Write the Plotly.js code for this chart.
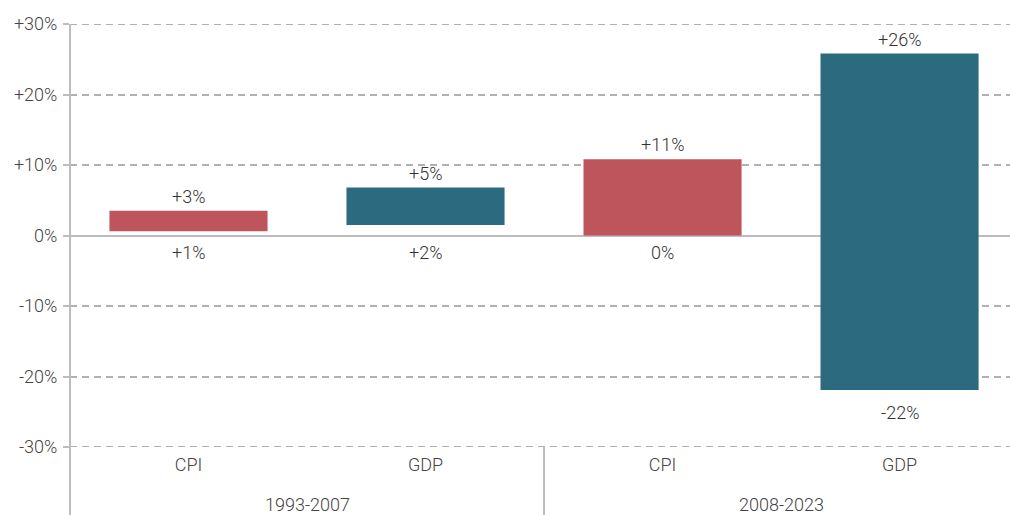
<!DOCTYPE html>
<html>
<head>
<meta charset="utf-8">
<script src="https://cdn.plot.ly/plotly-3.0.1.min.js"></script>
<style>html,body{margin:0;padding:0;background:#fff;}#chart{width:1010px;height:515px;}</style>
</head>
<body>
<div id="chart"></div>
<script>
var categories = ["CPI", "GDP", "CPI", "GDP"];
var periods = ["1993-2007", "2008-2023"];
var lowValues = [0.6, 1.5, 0.0, -21.9];
var highValues = [3.5, 6.8, 10.8, 25.8];
var topLabels = ["+3%", "+5%", "+11%", "+26%"];
var bottomLabels = ["+1%", "+2%", "0%", "-22%"];
var barColors = ["#BE555C", "#2C6A80", "#BE555C", "#2C6A80"];
var yTickVals = [-30, -20, -10, 0, 10, 20, 30];
var yTickText = ["-30%", "-20%", "-10%", "0%", "+10%", "+20%", "+30%"];
var yRange = [-30, 30];

var F = {family: "Roboto", size: 18, color: "#333", weight: 300};
var FT = {family: "Roboto", size: 18, color: "#444", weight: 300};

var xPos = categories.map(function(_, i){ return i; });
var trace = {
  type: "bar",
  x: xPos,
  base: lowValues,
  y: highValues.map(function(h, i){ return h - lowValues[i]; }),
  width: 0.667,
  marker: {color: barColors},
  hoverinfo: "skip"
};

var annotations = [];
xPos.forEach(function(x, i){
  annotations.push({x: x, y: highValues[i], xref: "x", yref: "y", text: topLabels[i],
    showarrow: false, yanchor: "bottom", yshift: 2, font: F});
  annotations.push({x: x, y: Math.min(lowValues[i], 0), xref: "x", yref: "y", text: bottomLabels[i],
    showarrow: false, yanchor: "top", yshift: lowValues[i] < 0 ? -10 : -4, font: F});
});
periods.forEach(function(p, i){
  annotations.push({x: 2 * i + 0.5, y: -0.137, xref: "x", yref: "paper", text: p,
    showarrow: false, yanchor: "middle", font: FT});
});

var shapes = [
  {type: "line", xref: "paper", yref: "paper", x0: 0, x1: 0, y0: -0.161, y1: 1,
    line: {color: "#bdbdbd", width: 2}},
  {type: "line", xref: "x", yref: "paper", x0: 1.5, x1: 1.5, y0: -0.161, y1: 0,
    line: {color: "#bdbdbd", width: 2}}
];
yRange.forEach(function(v){
  shapes.push({type: "line", xref: "paper", yref: "y", x0: 0, x1: 1, y0: v, y1: v, layer: "below",
    line: {color: "#b0b0b0", width: 2, dash: "7px,5px"}});
});

var layout = {
  width: 1010, height: 515,
  margin: {l: 70, r: 0, t: 24, b: 68},
  paper_bgcolor: "#fff", plot_bgcolor: "#fff",
  showlegend: false,
  font: FT,
  xaxis: {
    range: [-0.5, 3.466], tickvals: xPos, ticktext: categories,
    showgrid: false, zeroline: false, showline: false, ticks: "", fixedrange: true,
    tickfont: FT, ticklabelstandoff: 5
  },
  yaxis: {
    range: yRange, tickvals: yTickVals, ticktext: yTickText,
    showgrid: true, gridcolor: "#b0b0b0", gridwidth: 2, griddash: "7px,5px",
    zeroline: true, zerolinecolor: "#bdbdbd", zerolinewidth: 2,
    showline: false, ticks: "outside", ticklen: 6, tickcolor: "#bdbdbd", tickwidth: 2,
    tickfont: FT, fixedrange: true, ticklabelstandoff: 2
  },
  shapes: shapes,
  annotations: annotations
};

Plotly.newPlot("chart", [trace], layout, {displayModeBar: false, staticPlot: true});
</script>
</body>
</html>
